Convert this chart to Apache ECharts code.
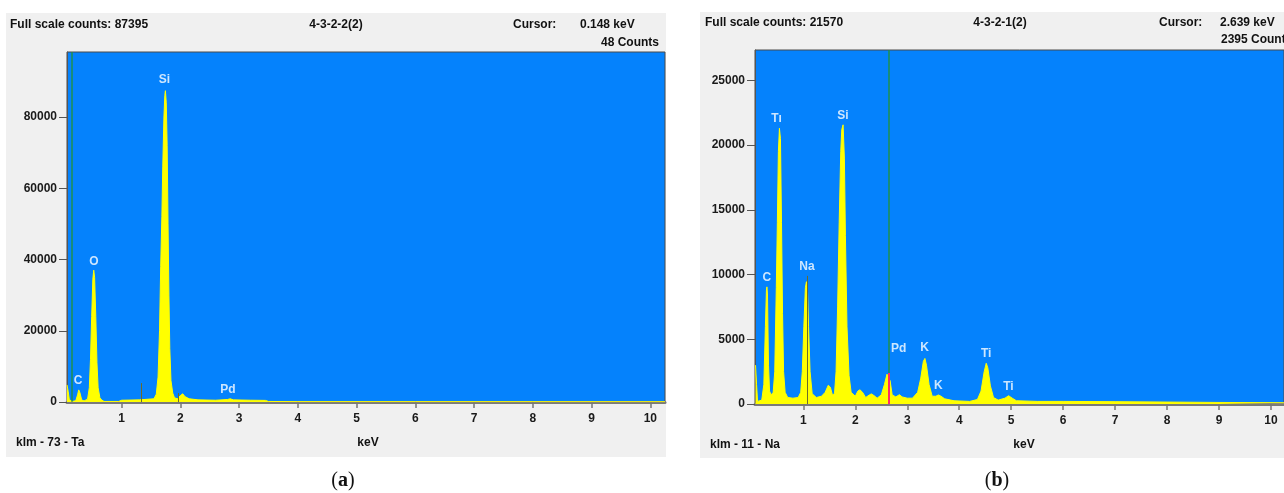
<!DOCTYPE html>
<html><head><meta charset="utf-8">
<script src="https://cdn.jsdelivr.net/npm/echarts@6/dist/echarts.min.js"></script>
<style>html,body{margin:0;padding:0;background:#fff}#c{width:1284px;height:493px}</style>
</head><body><div id="c"></div>
<script>
// ---------- data ----------
const xTicks = [1,2,3,4,5,6,7,8,9,10];
const yTicksA = [0,20000,40000,60000,80000];
const yTicksB = [0,5000,10000,15000,20000,25000];

const keVA = [0.07,0.09,0.11,0.14,0.17,0.22,0.25,0.27,0.29,0.32,0.36,0.42,0.45,0.47,0.49,0.51,0.525,0.54,0.56,0.58,0.60,0.63,0.66,0.70,0.95,1.00,1.30,1.55,1.59,1.62,1.645,1.665,1.685,1.70,1.72,1.735,1.745,1.76,1.775,1.79,1.805,1.82,1.84,1.87,1.90,1.95,2.00,2.04,2.08,2.15,2.30,2.60,2.80,2.85,2.90,3.20,3.45,3.50,4.00,6.00,8.00,10.25];
const cntA = [4800,3000,600,200,150,400,2000,3400,2600,600,300,800,4000,12000,24000,34500,37000,35000,24000,11000,4000,1200,600,150,150,500,600,900,2200,7000,20000,38000,52000,66000,80000,86000,87395,84000,72000,50000,30000,15000,6000,2500,1200,900,1800,2300,1500,900,600,500,700,900,600,500,450,150,100,90,80,80];

const keVB = [0.08,0.10,0.12,0.15,0.20,0.24,0.27,0.29,0.30,0.31,0.33,0.35,0.38,0.42,0.45,0.48,0.50,0.52,0.54,0.56,0.58,0.60,0.62,0.65,0.70,0.80,0.90,0.95,0.98,1.01,1.04,1.06,1.08,1.10,1.13,1.17,1.25,1.35,1.42,1.48,1.52,1.56,1.60,1.63,1.66,1.69,1.72,1.74,1.765,1.79,1.81,1.84,1.88,1.92,2.00,2.05,2.09,2.14,2.20,2.27,2.31,2.36,2.42,2.50,2.56,2.61,2.64,2.67,2.71,2.78,2.85,2.90,3.00,3.10,3.20,3.26,3.31,3.34,3.37,3.42,3.48,3.55,3.60,3.65,3.72,3.90,4.20,4.35,4.42,4.48,4.52,4.55,4.60,4.66,4.75,4.88,4.95,5.02,5.10,5.50,6.00,7.00,8.00,9.00,10.25];
const cntB = [3000,1500,200,100,300,1500,6000,8800,9050,8500,3000,1000,700,900,2500,9000,14000,19500,21300,20500,14000,7000,2500,900,500,450,500,900,2500,6000,9000,9450,8800,6000,2500,800,500,600,900,1450,1300,700,800,2500,7500,14000,19500,21200,21570,19000,13000,6000,2200,900,600,1000,1100,900,500,700,780,650,450,700,1500,2300,2395,1800,700,550,720,550,450,450,900,2000,3300,3520,3000,1500,600,600,700,600,400,250,200,350,1000,2500,3150,2800,1400,500,300,450,640,450,250,200,200,180,150,120,100];

const elemA = ['C','O','Si','Pd'];
const elemAkeV = [0.26,0.53,1.73,2.81];
const elemAy = [5900,39300,90400,3370];

const elemB = ['C','Tı','Si','Na','Pd','K','K','Ti','Ti'];
const elemBkeV = [0.297,0.486,1.764,1.07,2.836,3.333,3.60,4.518,4.947];
const elemBy = [9776,22045,22245,10594,4298,4345,1412,3912,1335];

// thin KLM marker lines [keV, height]
const klmA = [[1.33,5300],[1.97,2500]];
const klmB = [[1.07,9900]];

const cursorA = [0.148, 48];
const cursorB = [2.639, 2395];

// ---------- chart ----------
const FONT = 'Liberation Sans';
const BLUE = '#0582fc';
const YEL = '#ffff00';
const GREEN = '#1f8f4f';
const pairs = (xs, ys) => xs.map((x,i)=>[x, ys[i]]);

function xAxisCfg(gi){
  return {type:'value', gridIndex:gi, min:0.07, max:10.25,
    axisLine:{show:true, onZero:false, lineStyle:{color:'#7a7a7a', width:3}},
    axisTick:{show:true, customValues:xTicks, length:6, lineStyle:{color:'#777', width:1.5}},
    axisLabel:{customValues:xTicks, margin:11, color:'#1a1a1a', fontFamily:FONT, fontWeight:'bold', fontSize:12, formatter:v=>String(v)},
    splitLine:{show:false}};
}
function yAxisCfg(gi, max, ticks){
  return {type:'value', gridIndex:gi, min:0, max:max,
    axisLine:{show:true, lineStyle:{color:'#555', width:1}},
    axisTick:{show:true, customValues:ticks, length:8, lineStyle:{color:'#555', width:1}},
    axisLabel:{customValues:ticks, margin:10, color:'#1a1a1a', fontFamily:FONT, fontWeight:'bold', fontSize:12, formatter:v=>String(v)},
    splitLine:{show:false}};
}
function spec(gi, xs, ys){
  return {type:'line', xAxisIndex:gi, yAxisIndex:gi, data:pairs(xs,ys), showSymbol:false, smooth:false,
    lineStyle:{color:YEL, width:1}, areaStyle:{color:YEL, opacity:1}, silent:true, z:2};
}
function labels(gi, names, xs, ys){
  return {type:'scatter', xAxisIndex:gi, yAxisIndex:gi, symbolSize:1, itemStyle:{color:'rgba(0,0,0,0)'},
    data:names.map((n,i)=>({value:[xs[i], ys[i]], name:n})), silent:true, z:5,
    label:{show:true, position:'inside', formatter:p=>p.name, color:'#fff', fontFamily:FONT, fontWeight:'bold', fontSize:12}};
}
function cursor(gi, c, ymax, klm){
  const d = [
    [{coord:[c[0], c[1]], lineStyle:{color:GREEN, width:1.5, type:'solid'}},{coord:[c[0], ymax]}],
    [{coord:[c[0], 0], lineStyle:{color:'#ff2a6a', width:2, type:'solid'}},{coord:[c[0], c[1]]}]
  ];
  klm.forEach(k=>d.push([{coord:[k[0],0], lineStyle:{color:'#6b6b2a', width:1, type:'solid'}},{coord:[k[0],k[1]]}]));
  return {type:'line', xAxisIndex:gi, yAxisIndex:gi, data:[], silent:true, z:4,
    markLine:{silent:true, symbol:['none','none'], label:{show:false}, animation:false, data:d}};
}
function txt(x,y,text,opt){
  return Object.assign({type:'text', x:x, y:y, silent:true, z:10,
    style:Object.assign({text:text, fill:'#111', font:'bold 12px "Liberation Sans"', textVerticalAlign:'middle'}, opt||{})});
}

const maxA = 98250, maxB = 27350;
const chart = echarts.init(document.getElementById('c'), null, {renderer:'canvas'});
chart.setOption({
  animation:false,
  backgroundColor:'#ffffff',
  grid:[
    {left:67, top:52, width:598, height:350, show:true, backgroundColor:BLUE, borderColor:'#4a4a4a', borderWidth:1, containLabel:false},
    {left:755, top:50, width:538, height:354, show:true, backgroundColor:BLUE, borderColor:'#4a4a4a', borderWidth:1, containLabel:false}
  ],
  xAxis:[xAxisCfg(0), xAxisCfg(1)],
  yAxis:[yAxisCfg(0, maxA, yTicksA), yAxisCfg(1, maxB, yTicksB)],
  series:[
    spec(0, keVA, cntA), spec(1, keVB, cntB),
    cursor(0, cursorA, maxA, klmA), cursor(1, cursorB, maxB, klmB),
    labels(0, elemA, elemAkeV, elemAy), labels(1, elemB, elemBkeV, elemBy)
  ],
  graphic:[
    {type:'rect', shape:{x:6, y:13, width:660, height:444}, style:{fill:'#f0f0f0'}, z:-10, silent:true},
    {type:'rect', shape:{x:700, y:12, width:600, height:446}, style:{fill:'#f0f0f0'}, z:-10, silent:true},
    txt(10, 25, 'Full scale counts: 87395'),
    txt(336, 25, '4-3-2-2(2)', {textAlign:'center'}),
    txt(513, 25, 'Cursor:'),
    txt(580, 25, '0.148 keV'),
    txt(659, 43, '48 Counts', {textAlign:'right'}),
    txt(16, 443, 'klm - 73 - Ta'),
    txt(368, 443, 'keV', {textAlign:'center'}),
    txt(705, 23, 'Full scale counts: 21570'),
    txt(1000, 23, '4-3-2-1(2)', {textAlign:'center'}),
    txt(1159, 23, 'Cursor:'),
    txt(1220, 23, '2.639 keV'),
    txt(1221, 40, '2395 Counts'),
    txt(710, 445, 'klm - 11 - Na'),
    txt(1024, 445, 'keV', {textAlign:'center'}),
    {type:'text', x:343, y:481, silent:true, style:{text:'({b|a})', textAlign:'center', textVerticalAlign:'middle', fill:'#111',
      font:'20px "Liberation Serif"', rich:{b:{fontWeight:'bold', fontSize:20, fontFamily:'Liberation Serif', fill:'#111'}}}},
    {type:'text', x:997, y:481, silent:true, style:{text:'({b|b})', textAlign:'center', textVerticalAlign:'middle', fill:'#111',
      font:'20px "Liberation Serif"', rich:{b:{fontWeight:'bold', fontSize:20, fontFamily:'Liberation Serif', fill:'#111'}}}}
  ]
});
</script></body></html>
